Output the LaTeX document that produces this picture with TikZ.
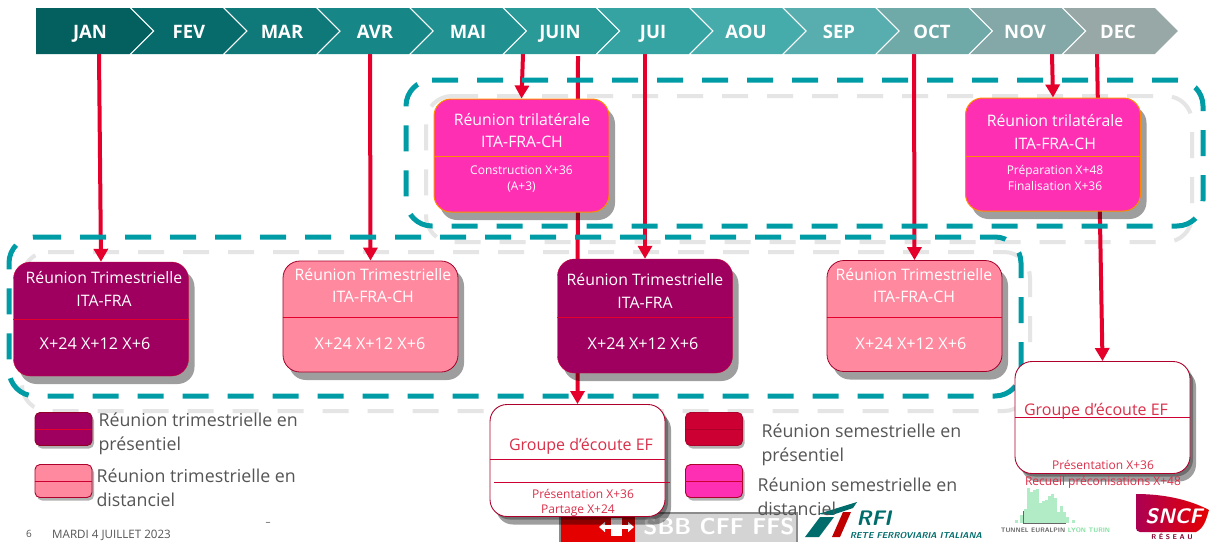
\documentclass[tikz,border=0pt]{standalone}
\usepackage{fontspec}
\setmainfont{Open Sans}
\usepackage{tikz}
\usetikzlibrary{arrows.meta,shadows,backgrounds}
\definecolor{redline}{HTML}{E4002B}
\definecolor{teal1}{HTML}{009CA6}
\definecolor{plum}{HTML}{9F0060}
\definecolor{salmon}{HTML}{FF8AA0}
\definecolor{fuchsia}{HTML}{FF2FB3}
\definecolor{crimson}{HTML}{CC0033}
\definecolor{greytxt}{HTML}{555555}
\definecolor{groupred}{HTML}{D9304A}
\tikzstyle{meetbox} = [rectangle, rounded corners=17pt, minimum width=175pt, inner sep=0pt, drop shadow={shadow xshift=6pt,shadow yshift=-8pt,fill=black,opacity=.38}]
\tikzstyle{plumbox} = [meetbox, draw=crimson, fill=plum, minimum height=114pt]
\tikzstyle{salmonbox} = [meetbox, draw=crimson!80!black, line width=.8pt, fill=salmon, minimum height=111pt]
\tikzstyle{tribox} = [meetbox, draw=orange!90!yellow, line width=1pt, fill=fuchsia, minimum height=113pt]
\tikzstyle{groupbox} = [meetbox, draw=crimson!85!black, line width=.9pt, fill=white, minimum height=112pt, drop shadow={shadow xshift=3pt,shadow yshift=-3pt,fill=black,opacity=.3}]
\tikzstyle{keybox} = [rectangle, rounded corners=5pt, minimum width=57pt, minimum height=33pt, inner sep=0pt, line width=.9pt, drop shadow={shadow xshift=2pt,shadow yshift=-3pt,fill=black,opacity=.3}]
\tikzstyle{month} = [text=white, text height=14pt, text depth=0pt, font=\fontsize{18.5}{22}\selectfont\bfseries]
\tikzstyle{title} = [text=white, font=\fontsize{15.8}{22.5}\selectfont, align=center]
\tikzstyle{small} = [text=white, font=\fontsize{12}{16}\selectfont, align=center]
\tikzstyle{dates} = [text=white, font=\fontsize{16.2}{20}\selectfont]
\tikzstyle{grouptitle} = [text=groupred, font=\fontsize{16}{18}\selectfont]
\tikzstyle{groupnote} = [text=groupred, font=\fontsize{12}{14}\selectfont]
\tikzstyle{keytext} = [text=greytxt, anchor=west, align=left, font=\fontsize{17.8}{24}\selectfont]
\tikzstyle{frame} = [dash pattern=on 26pt off 19pt, rounded corners=26pt, line width=5pt]
\tikzstyle{link} = [redline, line width=4pt, ->]
\begin{document}
\begin{tikzpicture}[>={Triangle[width=14pt,length=13pt]}]
  \clip (0pt,0pt) rectangle (1215pt,-542pt);
  % months
  \foreach \name/\mx/\col [count=\k from 0] in {JAN/90/045F5F,FEV/189/086B6B,MAR/282/0F7878,AVR/375/178686,MAI/468/209090,JUIN/560/2A9A98,JUI/653/35A3A1,AOU/746/45ABAB,SEP/839/58ADAE,OCT/932/6FA9A8,NOV/1025/83A8A7,DEC/1118/98A8A6}{
    \definecolor{barcol}{HTML}{\col}
    \pgfmathsetmacro{\sx}{129.6+93.2*\k}
    \pgfmathsetmacro{\tx}{\sx+23}
    \pgfmathsetmacro{\lx}{\k==0 ? 36 : \sx-91.2}
    \pgfmathsetmacro{\nx}{\k==0 ? 36 : \lx+23}
    \fill[barcol] (\lx pt,-8pt) -- (\sx pt,-8pt) -- (\tx pt,-31pt) -- (\sx pt,-54pt) -- (\lx pt,-54pt) -- (\nx pt,-31pt) -- cycle;
    \draw (\mx pt,-31pt) node[month](m\name){\name};
  }
  \coordinate (sJan) at (99pt,-54pt);
  \coordinate (sAvr) at (370pt,-54pt);
  \coordinate (sMai) at (523pt,-54pt);
  \coordinate (sJuin) at (578pt,-56pt);
  \coordinate (sJui) at (645pt,-54pt);
  \coordinate (sOct) at (914pt,-54pt);
  \coordinate (sNov) at (1052pt,-54pt);
  \coordinate (sDec) at (1097pt,-54pt);
  % logos
  \fill[black!45] (559pt,-512pt) rectangle (798pt,-542pt);
  \fill[black!17] (561pt,-514pt) rectangle (796pt,-542pt);
  \fill[red!90!black] (561pt,-514pt) rectangle (635pt,-542pt);
  \draw[white, line width=4pt, {Triangle[width=10pt,length=6pt]}-{Triangle[width=10pt,length=6pt]}] (599pt,-527pt) -- (634pt,-527pt);
  \fill[white] (611pt,-518pt) rectangle (622pt,-536pt);
  \draw (719pt,-527pt)node[text=white, font=\fontsize{23}{24}\selectfont\sffamily\bfseries](sbb){SBB CFF FFS};
  \fill[teal!85!black] (805pt,-537pt) -- (820pt,-517pt) -- (834pt,-517pt) -- (819pt,-537pt) -- cycle;
  \fill[teal!85!black] (818pt,-514pt) -- (857pt,-502pt) -- (853pt,-508pt) -- (832pt,-515pt) -- cycle;
  \fill[red!75!black] (832pt,-537pt) -- (843pt,-512pt) -- (851pt,-512pt) -- (840pt,-537pt) -- cycle;
  \draw (874pt,-518pt)node[text=teal!85!black, inner sep=0pt, font=\fontsize{21}{22}\selectfont\sffamily\bfseries\itshape](rfi){RFI};
  \draw (916pt,-535.5pt)node[text=teal!85!black, inner sep=0pt, font=\fontsize{8.6}{9}\selectfont\sffamily\bfseries\itshape](rfib){RETE FERROVIARIA ITALIANA};
  \foreach \bx/\bh in {1015/3,1020/8,1024/14,1027/35,1030/31,1033/33,1036/34,1039/20,1042/22,1045/23,1048/27,1051/29,1054/25,1057/11,1060/17,1063/11,1066/6,1072/3}{
    \fill[green!50!teal!30] (\bx pt,-523pt) rectangle ++(2.5pt,\bh pt);
  }
  \draw[black!60] (1023pt,-511pt) -- (1023pt,-523pt) -- (1066pt,-523pt);
  \draw (1033pt,-530pt)node[text=black!60, font=\fontsize{6.5}{7}\selectfont\sffamily\bfseries](tel){TUNNEL EURALPIN};
  \draw (1089pt,-530pt)node[text=green!50!teal!50, font=\fontsize{6.5}{7}\selectfont\sffamily\bfseries](lyon){LYON TURIN};
  \shade[left color=purple!90!blue, right color=red!90!black] (1136pt,-494pt) .. controls (1165pt,-494pt) and (1190pt,-500pt) .. (1209pt,-510pt) .. controls (1206pt,-520pt) and (1204pt,-528pt) .. (1196pt,-532pt) -- (1140pt,-532pt) .. controls (1137pt,-532pt) and (1136pt,-530pt) .. (1136pt,-527pt) -- cycle;
  \draw (1174pt,-516pt)node[text=white, font=\fontsize{21}{22}\selectfont\sffamily\bfseries\itshape](sncf){SNCF};
  \draw (1172pt,-536.5pt)node[text=purple!70!black, font=\fontsize{7}{8}\selectfont\sffamily\bfseries](reseau){R É S E A U};
  % meetings
  \draw (521.5pt,-155.5pt)node[tribox](tri1){};
  \draw (1053pt,-154.5pt)node[tribox](tri2){};
  \draw (101pt,-319pt)node[plumbox](jan){};
  \draw (370.5pt,-316.5pt)node[salmonbox](avr){};
  \draw (645pt,-316pt)node[plumbox](jui){};
  \draw (914.5pt,-316pt)node[salmonbox](oct){};
  \draw (577.5pt,-460.5pt)node[groupbox](grp1){};
  \draw (1102.5pt,-417.5pt)node[groupbox](grp2){};
  \begin{pgfonlayer}{background}
    \fill[white] (0pt,0pt) rectangle (1215pt,-542pt);
    \draw[frame, black!10, line width=4pt] (426pt,-96pt) -- (1192pt,-96pt) -- (1192pt,-242pt) -- (426pt,-242pt) -- cycle;
    \draw[frame, black!10, line width=4pt] (22pt,-252pt) -- (1030pt,-252pt) -- (1030pt,-411pt) -- (22pt,-411pt) -- cycle;
    \draw[link] (sJan) -- (jan.north);
    \draw[link] (sAvr) -- (avr.north);
    \draw[link] (sMai) -- (tri1.north);
    \draw[link] (sJuin) -- (grp1.north);
    \draw[link] (sJui) -- (jui.north);
    \draw[link] (sOct) -- (oct.north);
    \draw[link] (sNov) -- (tri2.north);
    \draw[link] (sDec) -- (grp2.north);
    \draw[frame, teal1] (406pt,-80pt) -- (1203pt,-80pt) -- (1203pt,-226pt) -- (406pt,-226pt) -- cycle;
    \draw[frame, teal1] (9pt,-237pt) -- (1021pt,-237pt) -- (1021pt,-396pt) -- (9pt,-396pt) -- cycle;
  \end{pgfonlayer}
  % dividers
  \draw[orange!90!yellow, line width=1pt] (tri1.west |- 0,-156pt) -- (tri1.east |- 0,-156pt);
  \draw[orange!90!yellow, line width=1pt] (tri2.west |- 0,-156pt) -- (tri2.east |- 0,-156pt);
  \draw[redline] (jan.west |- 0,-319pt) -- (jan.east |- 0,-319pt);
  \draw[redline] (avr.west |- 0,-317pt) -- (avr.east |- 0,-317pt);
  \draw[redline] (jui.west |- 0,-317pt) -- (jui.east |- 0,-317pt);
  \draw[redline] (oct.west |- 0,-317pt) -- (oct.east |- 0,-317pt);
  \draw[crimson, line width=.8pt] (grp1.west |- 0,-459pt) -- (grp1.east |- 0,-459pt);
  \draw[crimson, line width=.8pt] (494pt,-482pt) -- (670pt,-482pt);
  \draw[crimson, line width=.8pt] (grp2.west |- 0,-417pt) -- (grp2.east |- 0,-417pt);
  % box texts
  \draw (522pt,-130.5pt)node[title](tri1a){Réunion trilatérale\\ITA-FRA-CH};
  \draw (521.5pt,-179pt)node[small](tri1b){Construction X+36\\(A+3)};
  \draw (1055pt,-132pt)node[title](tri2a){Réunion trilatérale\\ITA-FRA-CH};
  \draw (1055pt,-178pt)node[small](tri2b){Préparation X+48\\Finalisation X+36};
  \draw (104pt,-289pt)node[title](jana){Réunion Trimestrielle\\ITA-FRA};
  \draw (373pt,-285.5pt)node[title](avra){Réunion Trimestrielle\\ITA-FRA-CH};
  \draw (645pt,-291pt)node[title](juia){Réunion Trimestrielle\\ITA-FRA};
  \draw (914pt,-285.5pt)node[title](octa){Réunion Trimestrielle\\ITA-FRA-CH};
  \draw (95pt,-344pt)node[dates](janb){X+24 X+12 X+6};
  \draw (370pt,-344pt)node[dates](avrb){X+24 X+12 X+6};
  \draw (643pt,-344pt)node[dates](juib){X+24 X+12 X+6};
  \draw (911pt,-344pt)node[dates](octb){X+24 X+12 X+6};
  \draw (581pt,-446pt)node[grouptitle](grp1a){Groupe d’écoute EF};
  \draw (583pt,-494pt)node[groupnote](grp1b){Présentation X+36};
  \draw (578pt,-511pt)node[groupnote](grp1c){Partage X+24};
  \draw (1096pt,-411pt)node[grouptitle](grp2a){Groupe d’écoute EF};
  \draw (1103pt,-465pt)node[groupnote](grp2b){Présentation X+36};
  \draw (1103pt,-482pt)node[groupnote](grp2c){Recueil préconisations X+48};
  % key
  \draw (63.5pt,-429pt)node[keybox, draw=crimson!70!black, fill=plum](key1){};
  \draw[redline] (key1.west) -- (key1.east);
  \draw (63.5pt,-481pt)node[keybox, draw=crimson!85!black, fill=salmon](key2){};
  \draw[crimson] (key2.west) -- (key2.east);
  \draw (714pt,-429pt)node[keybox, draw=crimson!85!black, fill=crimson](key3){};
  \draw[crimson!85!black] (key3.west) -- (key3.east);
  \draw (714pt,-481pt)node[keybox, draw=crimson!85!black, fill=fuchsia](key4){};
  \draw[crimson] (key4.west) -- (key4.east);
  \draw (95pt,-434pt)node[keytext](key1t){Réunion trimestrielle en\\présentiel};
  \draw (93pt,-488pt)node[keytext](key2t){Réunion trimestrielle en\\distanciel};
  \draw (758pt,-445pt)node[keytext](key3t){Réunion semestrielle en\\présentiel};
  \draw (754pt,-497pt)node[keytext](key4t){Réunion semestrielle en\\distanciel};
  % footer
  \draw (29pt,-534pt)node[text=greytxt, font=\fontsize{10}{11}\selectfont](page){6};
  \draw (111.5pt,-535pt)node[text=greytxt, font=\fontsize{11.6}{12}\selectfont](date){MARDI 4 JUILLET 2023};
  \draw (268pt,-524pt)node[text=greytxt, font=\fontsize{10}{11}\selectfont](dash){–};
\end{tikzpicture}
\end{document}
